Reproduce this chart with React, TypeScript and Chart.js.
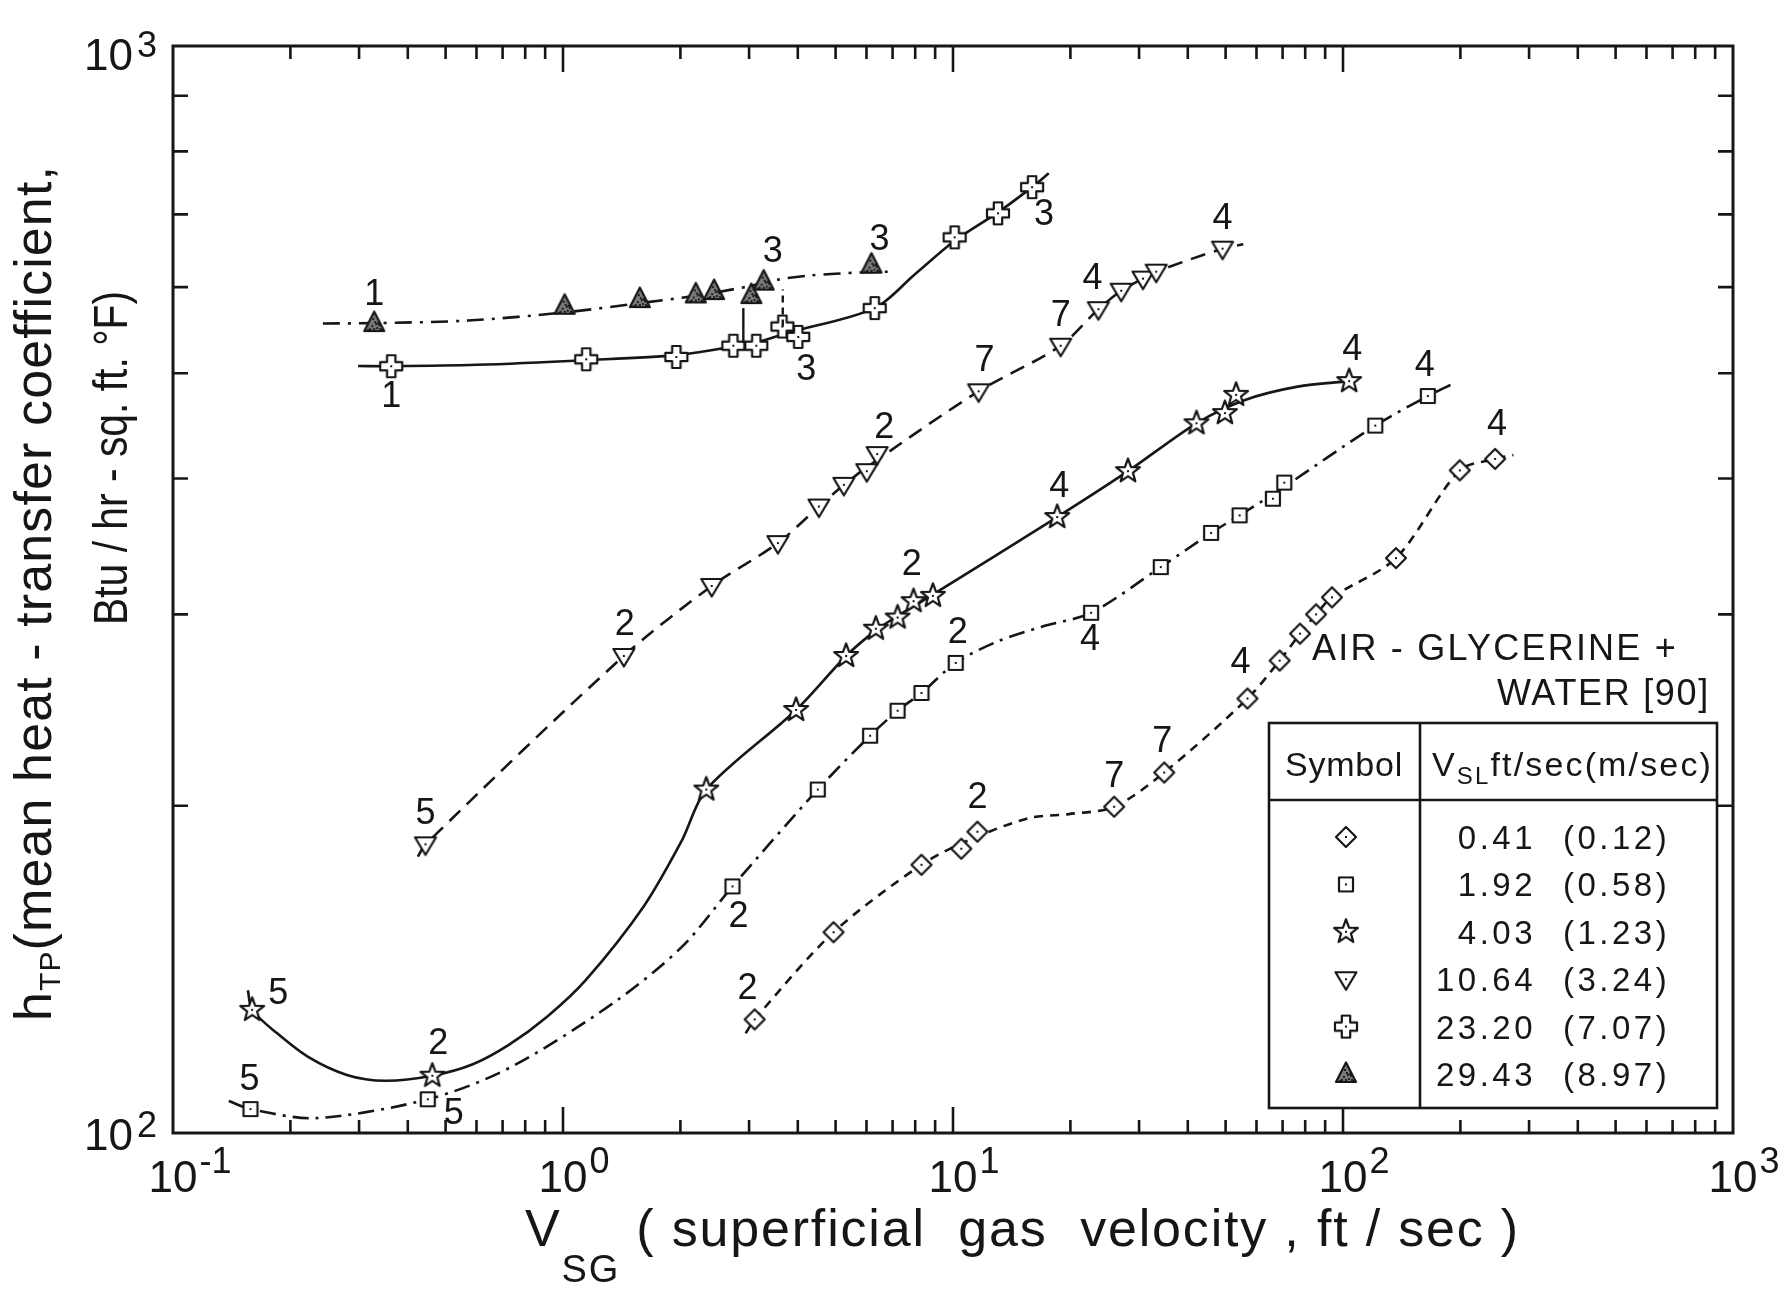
import { useEffect, useRef } from "react";
import Chart from "chart.js/auto";

const WIDTH = 1789;
const HEIGHT = 1290;
const INK = "#161616";
const FAMILY = '"Liberation Sans", "DejaVu Sans", Arial, sans-serif';

// Superficial gas velocity V_SG (ft/sec) and mean two-phase coefficient h_TP (Btu/hr-sq.ft.°F)
// V_SL = 0.41 ft/sec
const diamondX = [3.1, 4.94, 8.3, 10.5, 11.55, 25.9, 34.8, 56.9, 68.8, 77.6, 85.3, 93.7, 136.7, 199.3, 245.5];
const diamondY = [127.2, 153, 176.5, 182.6, 189.3, 199.6, 214.6, 251, 272, 288, 300, 311, 338, 407, 417];
const diamondFitX = [2.94, 3.1, 4.94, 8.3, 11.0, 15.6, 19.8, 25.9, 34.8, 56.9, 68.8, 77.6, 85.3, 93.7, 136.7, 199.3, 245.5, 273.5];
const diamondFitY = [123.5, 127.2, 153, 176.5, 186, 194.8, 196.5, 199.6, 214.6, 251, 272, 288, 300, 311, 338, 407, 417, 420.5];

// V_SL = 1.92 ft/sec
const squareX = [0.158, 0.45, 2.72, 4.5, 6.13, 7.21, 8.3, 10.16, 22.6, 34.1, 45.9, 54.3, 66.1, 70.7, 121, 165];
const squareY = [105.2, 107.4, 168.6, 207, 232, 244.6, 254, 270.7, 301, 331.6, 356.5, 370, 383.3, 396.6, 447.5, 476.4];
const squareFitX = [0.139, 0.158, 0.232, 0.45, 0.726, 1.342, 2.02, 2.72, 4.5, 6.13, 7.21, 8.3, 10.16, 12.95, 16.9, 22.6, 34.1, 45.9, 54.3, 68.4, 121, 165, 194];
const squareFitY = [107.0, 105.2, 103.2, 107.4, 114.7, 131.6, 148.4, 168.6, 207, 232, 244.6, 254, 270.7, 283.1, 292.3, 301, 331.6, 356.5, 370, 390, 447.5, 476.4, 490];

// V_SL = 4.03 ft/sec
const starX = [0.1596, 0.4624, 2.33, 3.96, 5.32, 6.34, 7.21, 7.92, 8.88, 18.5, 28.1, 42.1, 49.8, 53.2, 103.7];
const starY = [129.8, 112.9, 207, 245, 274.7, 291, 298, 308.5, 312, 368.7, 406.3, 449.7, 459.5, 477.6, 491.7];
const starFitX = [0.1556, 0.1596, 0.185, 0.222, 0.279, 0.35, 0.4624, 0.585, 0.726, 0.912, 1.145, 1.61, 2.02, 2.33, 3.96, 5.32, 6.34, 7.21, 8.4, 18.5, 28.1, 42.1, 56.1, 76.5, 103.7];
const starFitY = [135.3, 129.8, 123.5, 117.5, 113.1, 111.7, 112.9, 115.6, 120.5, 128, 138.3, 161.6, 186, 207, 245, 274.7, 290, 299, 309, 368.7, 406.3, 449.7, 472.5, 486, 491.7];

// V_SL = 10.64 ft/sec
const triDownX = [0.444, 1.432, 2.406, 3.556, 4.53, 5.25, 6.01, 6.39, 11.63, 18.88, 23.6, 27.0, 30.7, 33.2, 49.1];
const triDownY = [184.3, 274.7, 318.6, 348.9, 377, 394.7, 406.3, 421.3, 481.2, 530, 572.7, 595.5, 611, 620, 651];
const triDownFitX = [0.4245, 0.444, 1.432, 2.406, 3.556, 4.53, 5.25, 6.2, 11.63, 18.88, 23.6, 27.0, 30.7, 33.2, 49.1, 55.5];
const triDownFitY = [179.6, 184.3, 274.7, 318.6, 348.9, 377, 394.7, 413, 481.2, 530, 572.7, 595.5, 611, 620, 651, 657];

// V_SL = 23.20 ft/sec
const crossX = [0.3627, 1.147, 1.953, 2.734, 3.13, 3.653, 4.01, 6.3, 10.1, 13.04, 15.95];
const crossY = [507.5, 515, 517.5, 530, 530, 552, 540, 574, 666.8, 701.5, 741.6];
const crossFitX = [0.2982, 0.3627, 0.6, 1.147, 1.953, 2.734, 3.13, 3.8, 6.3, 8.0, 10.1, 13.04, 15.95, 17.6];
const crossFitY = [507.7, 507.5, 509, 514, 519.5, 529, 533.5, 545, 574, 617, 662, 703, 741.6, 763.6];

// V_SL = 29.43 ft/sec
const triUpX = [0.328, 1.01, 1.574, 2.19, 2.44, 3.04, 3.27, 6.18];
const triUpY = [556, 576.8, 585, 590.8, 595, 590, 607, 629.3];
const triUpFitX = [0.2423, 0.328, 0.571, 1.023, 1.574, 2.19, 2.44, 2.99, 3.59, 4.29, 5.8, 6.9];
const triUpFitY = [555.6, 556, 559, 569, 580, 589, 593, 601, 610, 615, 619, 620];

// legend table
const legendKinds = ["diamond", "square", "star", "triDown", "cross", "triUp"];
const legendVsl = ["0.41", "1.92", "4.03", "10.64", "23.20", "29.43"];
const legendVslMetric = ["(0.12)", "(0.58)", "(1.23)", "(3.24)", "(7.07)", "(8.97)"];

// axis decades
const xDecades = [-1, 0, 1, 2, 3];
const yDecades = [2, 3];

// flow-pattern codes written beside points: [series, point index, code]
const patternCodes: [string, number, string][] = [
  ["diamond", 0, "2"], ["diamond", 4, "2"], ["diamond", 5, "7"], ["diamond", 6, "7"], ["diamond", 7, "4"], ["diamond", 14, "4"],
  ["square", 0, "5"], ["square", 1, "5"], ["square", 2, "2"], ["square", 7, "2"], ["square", 8, "4"], ["square", 15, "4"],
  ["star", 0, "5"], ["star", 1, "2"], ["star", 8, "2"], ["star", 9, "4"], ["star", 14, "4"],
  ["triDown", 0, "5"], ["triDown", 1, "2"], ["triDown", 7, "2"], ["triDown", 8, "7"], ["triDown", 9, "7"], ["triDown", 10, "4"], ["triDown", 14, "4"],
  ["cross", 0, "1"], ["cross", 6, "3"], ["cross", 9, "3"],
  ["triUp", 0, "1"], ["triUp", 6, "3"], ["triUp", 7, "3"],
];
// pixel offsets of each code from its point (same order)
const codeOffsets: [number, number][] = [
  [-7, -30], [0, -34], [0, -30], [-2, -30], [-7, -35], [2, -34],
  [-1, -29], [26, 15], [6, 31], [2, -30], [-1, 27], [-3, -30],
  [26, -16], [6, -32], [-21, -31], [2, -30], [3, -31],
  [0, -30], [1, -31], [7, -26], [6, -30], [0, -30], [-6, -30], [0, -30],
  [0, 31], [8, 33], [46, 2],
  [0, -28], [9, -30], [8, -25],
];

// vertical transition marks between the two top curves
const linkX = [2.9, 3.66];
const linkLow = [533, 552];
const linkHigh = [574, 597];

type Run = [string, number, number];

function drawRuns(
  ctx: CanvasRenderingContext2D,
  runs: Run[],
  x: number,
  y: number,
  opts: { align?: "left" | "center" | "right"; width?: number; spacing?: number; scale?: number } = {}
) {
  ctx.save();
  (ctx as any).letterSpacing = "0px";
  let natural = 0;
  let chars = 0;
  const widths = runs.map(([t, size]) => {
    ctx.font = `${size}px ${FAMILY}`;
    const w = ctx.measureText(t).width;
    natural += w;
    chars += [...t].length;
    return w;
  });
  let sp = opts.spacing ?? 0;
  let sx = opts.scale ?? 1;
  if (opts.width) {
    if (opts.width >= natural) sp = (opts.width - natural) / chars;
    else sx = opts.width / natural;
  }
  const total = (natural + sp * chars) * sx;
  const start = opts.align === "center" ? x - total / 2 : opts.align === "right" ? x - total : x;
  ctx.translate(start, y);
  ctx.scale(sx, 1);
  ctx.textAlign = "left";
  ctx.textBaseline = "alphabetic";
  ctx.fillStyle = INK;
  let cx = 0;
  runs.forEach(([t, size, dy], i) => {
    ctx.font = `${size}px ${FAMILY}`;
    (ctx as any).letterSpacing = `${sp}px`;
    ctx.fillText(t, cx, dy);
    cx += widths[i] + sp * [...t].length;
  });
  (ctx as any).letterSpacing = "0px";
  ctx.restore();
}

function makeMarker(kind: string): HTMLCanvasElement {
  const s = 32;
  const c = document.createElement("canvas");
  c.width = s;
  c.height = s;
  const g = c.getContext("2d")!;
  const m = s / 2;
  g.lineWidth = 2.2;
  g.strokeStyle = INK;
  g.fillStyle = "#ffffff";
  g.lineJoin = "round";
  g.beginPath();
  if (kind === "diamond") {
    g.moveTo(m, m - 10);
    g.lineTo(m + 10, m);
    g.lineTo(m, m + 10);
    g.lineTo(m - 10, m);
    g.closePath();
  } else if (kind === "square") {
    g.rect(m - 7, m - 7, 14, 14);
  } else if (kind === "star") {
    for (let k = 0; k < 10; k++) {
      const r = k % 2 === 0 ? 12.5 : 5.2;
      const a = -Math.PI / 2 + (k * Math.PI) / 5;
      const px = m + r * Math.cos(a);
      const py = m + r * Math.sin(a);
      if (k === 0) g.moveTo(px, py);
      else g.lineTo(px, py);
    }
    g.closePath();
  } else if (kind === "triDown") {
    g.moveTo(m - 10.5, m - 7);
    g.lineTo(m + 10.5, m - 7);
    g.lineTo(m, m + 10.5);
    g.closePath();
  } else if (kind === "cross") {
    const a = 4.2;
    const b = 11;
    g.moveTo(m - a, m - b);
    g.lineTo(m + a, m - b);
    g.lineTo(m + a, m - a);
    g.lineTo(m + b, m - a);
    g.lineTo(m + b, m + a);
    g.lineTo(m + a, m + a);
    g.lineTo(m + a, m + b);
    g.lineTo(m - a, m + b);
    g.lineTo(m - a, m + a);
    g.lineTo(m - b, m + a);
    g.lineTo(m - b, m - a);
    g.lineTo(m - a, m - a);
    g.closePath();
  } else {
    g.moveTo(m, m - 11.5);
    g.lineTo(m + 10, m + 8);
    g.lineTo(m - 10, m + 8);
    g.closePath();
  }
  if (kind === "triUp") {
    g.fillStyle = "#7a7a7a";
    g.fill();
    g.save();
    g.clip();
    g.fillStyle = "#1e1e1e";
    const specks = [[-3, 2], [2, 4], [0, -2], [4, 1], [-5, 5], [1, 0], [-2, -5], [3, -1], [-1, 5], [5, 5], [-7, 6], [6, 6]];
    specks.forEach(([dx, dy]) => g.fillRect(m + dx, m + dy, 2, 2));
    g.restore();
    g.stroke();
  } else {
    g.fill();
    g.stroke();
    g.fillStyle = INK;
    g.fillRect(m - 1, m - 1, 2, 2);
  }
  return c;
}

export default function App() {
  const ref = useRef<HTMLCanvasElement | null>(null);

  useEffect(() => {
    const canvas = ref.current;
    if (!canvas) return;

    const series = [
      { key: "diamond", x: diamondX, y: diamondY, fx: diamondFitX, fy: diamondFitY, dash: [9, 7] },
      { key: "square", x: squareX, y: squareY, fx: squareFitX, fy: squareFitY, dash: [16, 7, 3, 7] },
      { key: "star", x: starX, y: starY, fx: starFitX, fy: starFitY, dash: [] as number[] },
      { key: "triDown", x: triDownX, y: triDownY, fx: triDownFitX, fy: triDownFitY, dash: [15, 9] },
      { key: "cross", x: crossX, y: crossY, fx: crossFitX, fy: crossFitY, dash: [] as number[] },
      { key: "triUp", x: triUpX, y: triUpY, fx: triUpFitX, fy: triUpFitY, dash: [17, 8, 3, 8] },
    ];

    const markers: Record<string, HTMLCanvasElement> = {};
    legendKinds.forEach((k) => (markers[k] = makeMarker(k)));

    const datasets: any[] = [];
    series.forEach((s) => {
      datasets.push({
        type: "line",
        data: s.fx.map((x, i) => ({ x, y: s.fy[i] })),
        borderColor: INK,
        borderWidth: 2.6,
        borderDash: s.dash,
        pointRadius: 0,
        tension: 0.3,
        fill: false,
        order: 2,
      });
      datasets.push({
        type: "scatter",
        data: s.x.map((x, i) => ({ x, y: s.y[i] })),
        pointStyle: markers[s.key],
        pointRadius: 10,
        showLine: false,
        order: 1,
      });
    });

    const decor = {
      id: "decor",
      beforeDraw(chart: any) {
        const ctx = chart.ctx as CanvasRenderingContext2D;
        ctx.save();
        ctx.fillStyle = "#ffffff";
        ctx.fillRect(0, 0, chart.width, chart.height);
        ctx.restore();
      },
      afterDatasetsDraw(chart: any) {
        const ctx = chart.ctx as CanvasRenderingContext2D;
        const xs = chart.scales.x;
        const ys = chart.scales.y;
        const { left, right, top, bottom } = chart.chartArea;
        ctx.save();
        ctx.strokeStyle = INK;
        ctx.fillStyle = INK;
        ctx.lineCap = "butt";

        // frame
        ctx.lineWidth = 3;
        ctx.strokeRect(left, top, right - left, bottom - top);

        // x ticks (inward, top and bottom)
        ctx.lineWidth = 2.6;
        for (let d = -1; d <= 2; d++) {
          for (let k = 1; k <= 9; k++) {
            if (d === -1 && k === 1) continue;
            const px = xs.getPixelForValue(k * Math.pow(10, d));
            const len = k === 1 ? 26 : 13;
            ctx.beginPath();
            ctx.moveTo(px, bottom);
            ctx.lineTo(px, bottom - len);
            ctx.moveTo(px, top);
            ctx.lineTo(px, top + len);
            ctx.stroke();
          }
        }
        // y ticks (inward, left and right)
        for (let k = 2; k <= 9; k++) {
          const py = ys.getPixelForValue(k * 100);
          ctx.beginPath();
          ctx.moveTo(left, py);
          ctx.lineTo(left + 15, py);
          ctx.moveTo(right, py);
          ctx.lineTo(right - 15, py);
          ctx.stroke();
        }

        // x tick labels
        xDecades.forEach((d) => {
          const px = xs.getPixelForValue(Math.pow(10, d));
          ctx.font = `44px ${FAMILY}`;
          ctx.textAlign = "center";
          ctx.textBaseline = "alphabetic";
          const w = ctx.measureText("10").width;
          ctx.fillText("10", px, 1192);
          ctx.font = `36px ${FAMILY}`;
          ctx.textAlign = "left";
          ctx.fillText(String(d), px + w / 2 + 2, 1173);
        });
        // y tick labels
        yDecades.forEach((d) => {
          const py = ys.getPixelForValue(Math.pow(10, d));
          const base = d === 3 ? py + 24 : py + 17;
          ctx.font = `44px ${FAMILY}`;
          ctx.textAlign = "right";
          ctx.textBaseline = "alphabetic";
          ctx.fillText("10", 133, base);
          ctx.font = `36px ${FAMILY}`;
          ctx.textAlign = "left";
          ctx.fillText(String(d), 137, base - 13);
        });

        // connecting marks
        ctx.lineWidth = 2.4;
        linkX.forEach((lx, i) => {
          const px = xs.getPixelForValue(lx);
          ctx.setLineDash(i === 1 ? [7, 5] : []);
          ctx.beginPath();
          ctx.moveTo(px, ys.getPixelForValue(linkLow[i]));
          ctx.lineTo(px, ys.getPixelForValue(linkHigh[i]));
          ctx.stroke();
        });
        ctx.setLineDash([]);

        // flow-pattern codes
        const lookup: Record<string, { x: number[]; y: number[] }> = {};
        series.forEach((s) => (lookup[s.key] = s));
        ctx.font = `36px ${FAMILY}`;
        ctx.textAlign = "center";
        ctx.textBaseline = "middle";
        patternCodes.forEach(([key, idx, code], i) => {
          const s = lookup[key];
          const px = xs.getPixelForValue(s.x[idx]);
          const py = ys.getPixelForValue(s.y[idx]);
          const [dx, dy] = codeOffsets[i];
          ctx.fillText(code, px + dx, py + dy);
        });

        // axis titles
        drawRuns(ctx, [["V", 52, 0], ["SG", 38, 36], [" ( superficial  gas  velocity , ft / sec )", 52, 0]], 525, 1246, { width: 995 });

        ctx.save();
        ctx.translate(51, 1021);
        ctx.rotate(-Math.PI / 2);
        drawRuns(ctx, [["h", 52, 0], ["TP", 30, 9], ["(mean heat - transfer coefficient,", 52, 0]], 0, 0, { width: 856 });
        ctx.restore();
        ctx.save();
        ctx.translate(127, 625);
        ctx.rotate(-Math.PI / 2);
        drawRuns(ctx, [["Btu / hr - sq. ft. °F)", 48, 0]], 0, 0, { width: 334 });
        ctx.restore();

        // legend title and table
        drawRuns(ctx, [["AIR - GLYCERINE +", 36, 0]], 1312, 660, { width: 366 });
        drawRuns(ctx, [["WATER [90]", 36, 0]], 1497, 705, { width: 213 });

        const tl = 1269, tr = 1717, tt = 723, tb = 1108, hy = 800, cxDiv = 1420;
        ctx.lineWidth = 2.6;
        ctx.strokeStyle = INK;
        ctx.fillStyle = "#ffffff";
        ctx.fillRect(tl, tt, tr - tl, tb - tt);
        ctx.strokeRect(tl, tt, tr - tl, tb - tt);
        ctx.beginPath();
        ctx.moveTo(tl, hy);
        ctx.lineTo(tr, hy);
        ctx.moveTo(cxDiv, tt);
        ctx.lineTo(cxDiv, tb);
        ctx.stroke();
        ctx.fillStyle = INK;
        drawRuns(ctx, [["Symbol", 34, 0]], 1344, 776, { align: "center", width: 118 });
        drawRuns(ctx, [["V", 34, 0], ["SL", 24, 8], ["ft/sec(m/sec)", 34, 0]], 1432, 776, { width: 281 });
        legendKinds.forEach((k, i) => {
          const base = 849 + i * 47.4;
          const img = markers[k];
          ctx.drawImage(img, 1346 - img.width / 2, base - 12 - img.height / 2);
          drawRuns(ctx, [[legendVsl[i], 33, 0]], 1536, base, { align: "right", spacing: 3.5 });
          drawRuns(ctx, [[legendVslMetric[i], 33, 0]], 1563, base, { spacing: 3.5 });
        });

        ctx.restore();
      },
    };

    const chart = new Chart(canvas, {
      type: "scatter",
      data: { datasets },
      options: {
        animation: false,
        responsive: false,
        devicePixelRatio: 1,
        events: [],
        layout: { padding: { left: 173, right: 56, top: 46, bottom: 157 } },
        scales: {
          x: { type: "logarithmic", min: 0.1, max: 1000, display: false },
          y: { type: "logarithmic", min: 100, max: 1000, display: false },
        },
        plugins: { legend: { display: false }, tooltip: { enabled: false } },
      },
      plugins: [decor],
    } as any);

    return () => chart.destroy();
  }, []);

  return (
    <div style={{ position: "absolute", left: 0, top: 0, width: WIDTH, height: HEIGHT, background: "#ffffff" }}>
      <canvas ref={ref} width={WIDTH} height={HEIGHT} style={{ display: "block", width: WIDTH, height: HEIGHT }} />
    </div>
  );
}
